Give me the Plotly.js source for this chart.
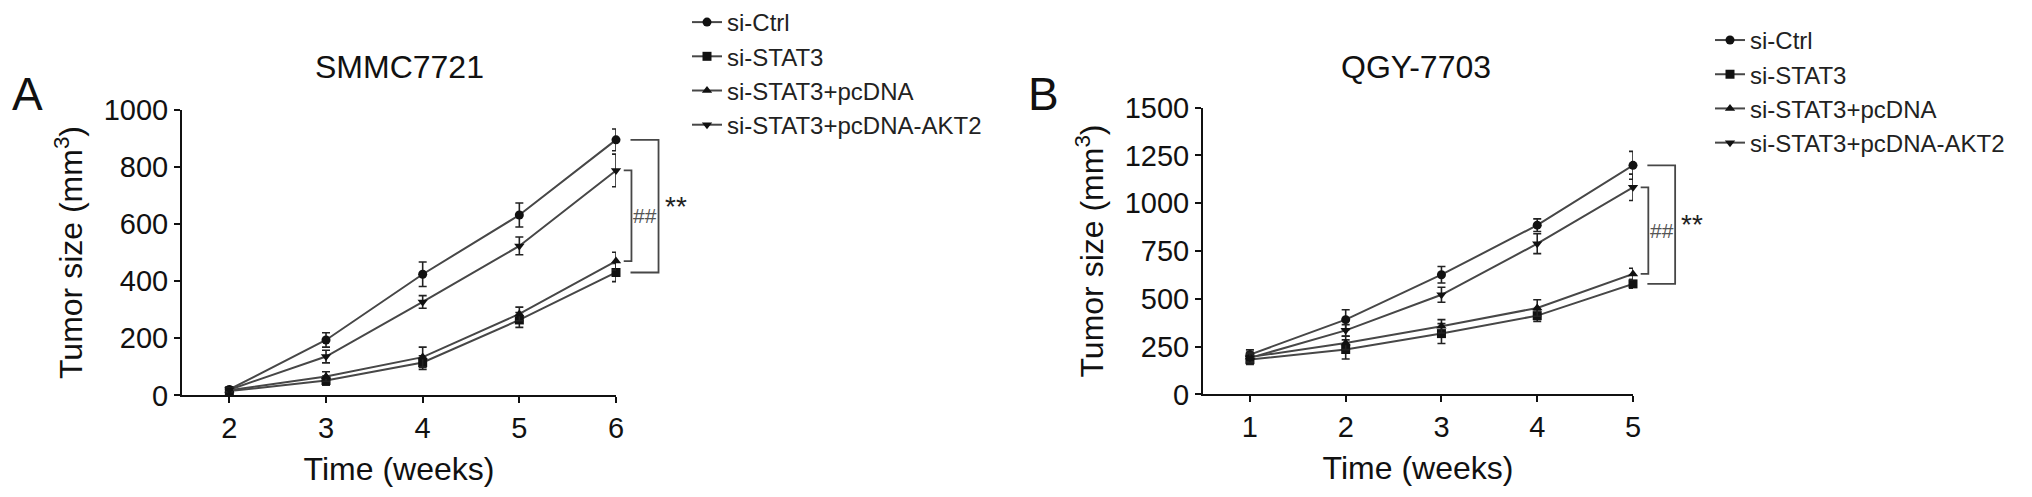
<!DOCTYPE html>
<html>
<head>
<meta charset="utf-8">
<script src="https://cdn.plot.ly/plotly-3.0.1.min.js"></script>
<style>html,body{margin:0;padding:0;background:#fff;}#chart{width:2032px;height:497px;}</style>
</head>
<body>
<div id="chart"></div>
<script>
// ---------- data ----------
const seriesNames = ['si-Ctrl', 'si-STAT3', 'si-STAT3+pcDNA', 'si-STAT3+pcDNA-AKT2'];

// Panel A: SMMC7721
const weeksA = [2, 3, 4, 5, 6];
const A_ctrl = [21, 194, 424, 631, 894];
const A_ctrl_err = [8, 25, 43, 42, 38];
const A_stat3 = [15, 52, 115, 264, 430];
const A_stat3_err = [6, 16, 24, 26, 32];
const A_pcdna = [18, 66, 134, 285, 470];
const A_pcdna_err = [6, 17, 35, 24, 31];
const A_akt2 = [20, 136, 327, 523, 787];
const A_akt2_err = [7, 22, 22, 31, 57];

// Panel B: QGY-7703
const weeksB = [1, 2, 3, 4, 5];
const B_ctrl = [208, 391, 626, 885, 1198];
const B_ctrl_err = [25, 52, 43, 33, 73];
const B_stat3 = [182, 235, 318, 412, 578];
const B_stat3_err = [25, 50, 52, 30, 22];
const B_pcdna = [195, 269, 356, 452, 630];
const B_pcdna_err = [25, 35, 35, 43, 30];
const B_akt2 = [191, 335, 521, 788, 1083];
const B_akt2_err = [25, 30, 39, 52, 69];

const yTicksA = [0, 200, 400, 600, 800, 1000];
const yTicksB = [0, 250, 500, 750, 1000, 1250, 1500];

// ---------- styling ----------
const FONT = 'Liberation Sans, Arial, Helvetica, sans-serif';
const INK = '#111111';
const LINE = '#474747';
const symbols = ['circle', 'square', 'triangle-up', 'triangle-down'];

function trace(x, y, err, i, xa, ya, leg) {
  return {
    type: 'scatter', mode: 'lines+markers',
    x: x, y: y, name: seriesNames[i],
    xaxis: xa, yaxis: ya, legend: leg,
    line: {color: LINE, width: 2},
    marker: {symbol: symbols[i], size: 9, color: INK},
    error_y: {type: 'data', array: err, visible: true, color: '#222', thickness: 1.6, width: 4},
    cliponaxis: false
  };
}

const data = [
  trace(weeksA, A_ctrl, A_ctrl_err, 0, 'x', 'y', 'legend'),
  trace(weeksA, A_stat3, A_stat3_err, 1, 'x', 'y', 'legend'),
  trace(weeksA, A_pcdna, A_pcdna_err, 2, 'x', 'y', 'legend'),
  trace(weeksA, A_akt2, A_akt2_err, 3, 'x', 'y', 'legend'),
  trace(weeksB, B_ctrl, B_ctrl_err, 0, 'x2', 'y2', 'legend2'),
  trace(weeksB, B_stat3, B_stat3_err, 1, 'x2', 'y2', 'legend2'),
  trace(weeksB, B_pcdna, B_pcdna_err, 2, 'x2', 'y2', 'legend2'),
  trace(weeksB, B_akt2, B_akt2_err, 3, 'x2', 'y2', 'legend2')
];

const W = 2032, H = 497;
const px = v => v / W;
const py = v => 1 - v / H;

const domXA = [px(182), px(616)], domYA = [py(395), py(108)];
const domXB = [px(1203), px(1633)], domYB = [py(394), py(106)];
const rngXA = [1.51, 6], rngYA = [0, 1000];
const rngXB = [0.51, 5], rngYB = [0, 1500];

function axisBase() {
  return {
    showline: true, linewidth: 2, linecolor: INK,
    ticks: 'outside', ticklen: 6, tickwidth: 2, tickcolor: INK,
    showgrid: false, zeroline: false, fixedrange: true,
    tickfont: {family: FONT, size: 29, color: INK}
  };
}
const titleFont = {family: FONT, size: 32, color: INK};

const xaxis = Object.assign(axisBase(), {
  domain: domXA, range: rngXA, tickvals: weeksA, anchor: 'y',
  title: {text: 'Time (weeks)', font: titleFont, standoff: 14}
});
const yaxis = Object.assign(axisBase(), {
  domain: domYA, range: rngYA, tickvals: yTicksA, anchor: 'x',
  title: {text: 'Tumor size (mm<sup>3</sup>)', font: titleFont, standoff: 11}
});
const xaxis2 = Object.assign(axisBase(), {
  domain: domXB, range: rngXB, tickvals: weeksB, anchor: 'y2',
  title: {text: 'Time (weeks)', font: titleFont, standoff: 14}
});
const yaxis2 = Object.assign(axisBase(), {
  domain: domYB, range: rngYB, tickvals: yTicksB, anchor: 'x2',
  title: {text: 'Tumor size (mm<sup>3</sup>)', font: titleFont, standoff: 11}
});

// data value -> paper fraction (so bracket marks outside the plot area are not clipped)
const toP = (dom, rng, v) => dom[0] + (v - rng[0]) / (rng[1] - rng[0]) * (dom[1] - dom[0]);

const last = a => a[a.length - 1];

function panelMarks(weeks, ctrl, stat3, pcdna, akt2, dX, rX, dY, rY) {
  const xl = last(weeks);
  const X = v => toP(dX, rX, v);
  const Y = v => toP(dY, rY, v);
  const top = Y(last(ctrl)), bottom = Y(last(stat3));
  const upLow = Y(last(akt2)), lowHigh = Y(last(pcdna));
  const shapes = [
    {type: 'path', xref: 'paper', yref: 'paper',
     path: `M ${X(xl + 0.08)},${upLow} H ${X(xl + 0.16)} V ${lowHigh} H ${X(xl + 0.08)}`,
     line: {color: LINE, width: 1.8}},
    {type: 'path', xref: 'paper', yref: 'paper',
     path: `M ${X(xl + 0.15)},${top} H ${X(xl + 0.44)} V ${bottom} H ${X(xl + 0.15)}`,
     line: {color: LINE, width: 1.8}}
  ];
  const notes = [
    {xref: 'paper', yref: 'paper', x: X(xl + 0.30), y: (upLow + lowHigh) / 2, text: '##',
     xanchor: 'center', yanchor: 'middle', showarrow: false,
     font: {family: FONT, size: 21, color: '#555'}},
    {xref: 'paper', yref: 'paper', x: X(xl + 0.62), y: (top + bottom) / 2, text: '**',
     xanchor: 'center', yanchor: 'middle', showarrow: false,
     font: {family: FONT, size: 28, color: '#222'}}
  ];
  return {shapes, notes};
}

const mA = panelMarks(weeksA, A_ctrl, A_stat3, A_pcdna, A_akt2, domXA, rngXA, domYA, rngYA);
const mB = panelMarks(weeksB, B_ctrl, B_stat3, B_pcdna, B_akt2, domXB, rngXB, domYB, rngYB);

const annotations = [
  {xref: 'paper', yref: 'paper', x: px(399), y: py(65), text: 'SMMC7721', showarrow: false,
   xanchor: 'center', yanchor: 'middle', font: {family: FONT, size: 32, color: INK}},
  {xref: 'paper', yref: 'paper', x: px(1416), y: py(65), text: 'QGY-7703', showarrow: false,
   xanchor: 'center', yanchor: 'middle', font: {family: FONT, size: 32, color: INK}},
  {xref: 'paper', yref: 'paper', x: px(27), y: py(92), text: 'A', showarrow: false,
   xanchor: 'center', yanchor: 'middle', font: {family: FONT, size: 46, color: INK}},
  {xref: 'paper', yref: 'paper', x: px(1043), y: py(92), text: 'B', showarrow: false,
   xanchor: 'center', yanchor: 'middle', font: {family: FONT, size: 46, color: INK}}
].concat(mA.notes, mB.notes);

const legendBase = {
  xanchor: 'left', yanchor: 'top', bgcolor: 'rgba(0,0,0,0)', borderwidth: 0,
  font: {family: FONT, size: 24, color: '#222'}, itemwidth: 30, tracegroupgap: 0
};

const layout = {
  width: W, height: H,
  margin: {l: 0, r: 0, t: 0, b: 0},
  paper_bgcolor: '#fff', plot_bgcolor: '#fff',
  font: {family: FONT, color: INK},
  showlegend: true,
  legend: Object.assign({}, legendBase, {x: px(687), y: py(-2)}),
  legend2: Object.assign({}, legendBase, {x: px(1710), y: py(16)}),
  xaxis: xaxis, yaxis: yaxis, xaxis2: xaxis2, yaxis2: yaxis2,
  shapes: mA.shapes.concat(mB.shapes), annotations: annotations
};

Plotly.newPlot('chart', data, layout, {displayModeBar: false, staticPlot: true});
</script>
</body>
</html>
